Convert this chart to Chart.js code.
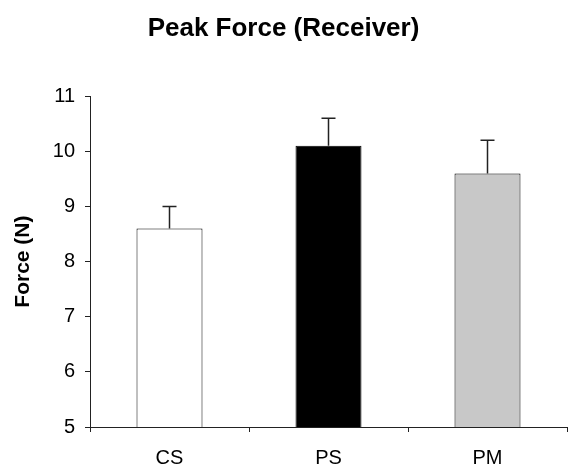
<!DOCTYPE html>
<html>
<head>
<meta charset="utf-8">
<script src="https://cdn.jsdelivr.net/npm/chart.js@4"></script>
<style>
  body { margin: 0; background: #fff; }
  #wrap { width: 569px; height: 468px; }
</style>
</head>
<body>
<div id="wrap"><canvas id="forcechart" width="569" height="468"></canvas></div>
<script>
// values
const groups = ['CS', 'PS', 'PM'];
const peakForce = [8.6, 10.1, 9.6];
const errUp = [0.4, 0.5, 0.6];
const yTicks = [5, 6, 7, 8, 9, 10, 11];

const barFill = ['#ffffff', '#000000', '#c8c8c8'];

// upper error bars, positioned with the chart's own scales
const errorBars = {
    id: 'errorBars',
    afterDatasetsDraw(chart) {
        let ctx = chart.ctx;
        let y = chart.scales.y;
        let meta = chart.getDatasetMeta(0);
        ctx.save();
        ctx.strokeStyle = '#222';
        ctx.lineWidth = 1.5;
        meta.data.forEach((bar, i) => {
            let top = y.getPixelForValue(peakForce[i]);
            let cap = y.getPixelForValue(peakForce[i] + errUp[i]);
            ctx.beginPath();
            ctx.moveTo(bar.x, top);
            ctx.lineTo(bar.x, cap);
            ctx.moveTo(bar.x - 7, cap);
            ctx.lineTo(bar.x + 7, cap);
            ctx.stroke();
        });
        ctx.restore();
    }
};

let ctx = document.getElementById('forcechart').getContext('2d');
new Chart(ctx, {
    type: 'bar',
    data: {
        labels: groups,
        datasets: [{
            label: 'Peak Force',
            data: peakForce,
            backgroundColor: barFill,
            borderColor: '#000',
            borderWidth: 1,
            borderSkipped: false,
            barPercentage: 0.415,
            categoryPercentage: 1.0
        }]
    },
    options: {
        responsive: false,
        animation: { duration: 0 },
        layout: { padding: { left: 0, right: 2, top: 0, bottom: 0 } },
        plugins: {
            legend: { display: false },
            tooltip: { enabled: false },
            title: {
                display: true,
                text: 'Peak Force (Receiver)',
                color: '#000',
                font: { family: 'Liberation Sans, Arial, sans-serif', size: 26, weight: 'bold' },
                padding: { top: 13, bottom: 52 }
            }
        },
        scales: {
            x: {
                grid: { drawOnChartArea: false, color: '#222', tickLength: 5, offset: true },
                border: { color: '#222', width: 1 },
                ticks: {
                    color: '#000',
                    padding: 14,
                    font: { family: 'Liberation Sans, Arial, sans-serif', size: 20 }
                },
                afterFit(scale) { scale.height = 41; }
            },
            y: {
                min: 5,
                max: 11,
                afterBuildTicks(scale) { scale.ticks = yTicks.map(v => ({ value: v })); },
                grid: { drawOnChartArea: false, color: '#222', tickLength: 5 },
                border: { color: '#222', width: 1 },
                ticks: {
                    color: '#000',
                    padding: 10,
                    font: { family: 'Liberation Sans, Arial, sans-serif', size: 20 }
                },
                title: {
                    display: true,
                    text: 'Force (N)',
                    color: '#000',
                    padding: { top: 11, bottom: 6 },
                    font: { family: 'Liberation Sans, Arial, sans-serif', size: 21, weight: 'bold' }
                },
                afterFit(scale) { scale.width = 90; }
            }
        }
    },
    plugins: [errorBars]
});
</script>
</body>
</html>
